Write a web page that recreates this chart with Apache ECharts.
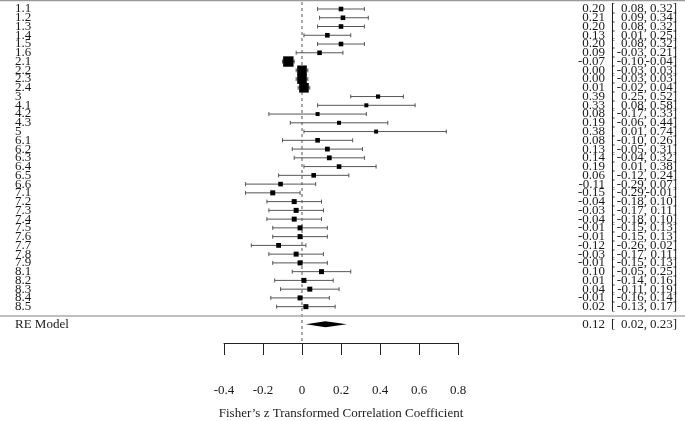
<!DOCTYPE html>
<html><head><meta charset="utf-8">
<script src="https://cdn.jsdelivr.net/npm/echarts@6/dist/echarts.min.js"></script>
<style>html,body{margin:0;padding:0;background:#fff}#c{width:685px;height:421px}</style>
</head><body><div id="c"></div>
<script>
const labels = ['1.1','1.2','1.3','1.4','1.5','1.6','2.1','2.2','2.3','2.4','3','4.1','4.2','4.3','5','6.1','6.2','6.3','6.4','6.5','6.6','7.1','7.2','7.3','7.4','7.5','7.6','7.7','7.8','7.9','8.1','8.2','8.3','8.4','8.5'];
const est   = [0.20,0.21,0.20,0.13,0.20,0.09,-0.07,0.00,0.00,0.01,0.39,0.33,0.08,0.19,0.38,0.08,0.13,0.14,0.19,0.06,-0.11,-0.15,-0.04,-0.03,-0.04,-0.01,-0.01,-0.12,-0.03,-0.01,0.10,0.01,0.04,-0.01,0.02];
const lower = [0.08,0.09,0.08,0.01,0.08,-0.03,-0.10,-0.03,-0.03,-0.02,0.25,0.08,-0.17,-0.06,0.01,-0.10,-0.05,-0.04,0.01,-0.12,-0.29,-0.29,-0.18,-0.17,-0.18,-0.15,-0.15,-0.26,-0.17,-0.15,-0.05,-0.14,-0.11,-0.16,-0.13];
const upper = [0.32,0.34,0.32,0.25,0.32,0.21,-0.04,0.03,0.03,0.04,0.52,0.58,0.33,0.44,0.74,0.26,0.31,0.32,0.38,0.24,0.07,-0.01,0.10,0.11,0.10,0.13,0.13,0.02,0.11,0.13,0.25,0.16,0.19,0.14,0.17];
// relative study weights
const weights = [2.3,2.3,2.3,2.3,2.3,2.3,5.2,4.8,4.8,4.8,2.1,2.0,2.0,2.0,2.0,2.3,2.4,2.4,2.3,2.3,2.3,2.5,2.5,2.5,2.5,2.5,2.5,2.4,2.5,2.5,2.5,2.5,2.5,2.5,2.5];
const reLabel = 'RE Model';
const reEst = 0.12, reLower = 0.02, reUpper = 0.23;
const xTicks = [-0.4,-0.2,0,0.2,0.4,0.6,0.8];

const FONT = '"Liberation Serif", "DejaVu Serif", serif';
const FS = 13;
const TXT = '#1a1a1a';
const fmt = v => v.toFixed(2);
const rePos = labels.length + 1;

const rows = labels.map((l, i) => [i, est[i], lower[i], upper[i], weights[i]]);

function txt(text, x, y, align) {
  return {type:'text', style:{text, x, y, align, verticalAlign:'middle', fontSize:FS, fontFamily:FONT, fill:TXT}};
}
function rightCols(e, lo, hi, y, out) {
  out.push(txt(fmt(e), 605, y, 'right'));
  out.push(txt('[', 611, y, 'left'));
  out.push(txt(fmt(lo) + ',', 647, y, 'right'));
  out.push(txt(fmt(hi) + ']', 677, y, 'right'));
}

const chart = echarts.init(document.getElementById('c'), null, {renderer:'canvas'});
chart.setOption({
  animation:false,
  backgroundColor:'#fff',
  grid:{left:224, right:227, top:9, bottom:78, outerBoundsMode:'none', containLabel:false},
  xAxis:{type:'value', min:-0.4, max:0.8, interval:0.2,
    axisLine:{onZero:false, lineStyle:{color:'#222', width:1}},
    axisTick:{length:12, lineStyle:{color:'#222'}},
    axisLabel:{margin:41, fontSize:FS, fontFamily:FONT, color:TXT,
      formatter:v => { const t = xTicks.find(k => Math.abs(k - v) < 1e-9); return t === undefined ? '' : String(t); }},
    splitLine:{show:false},
    name:'Fisher\u2019s z Transformed Correlation Coefficient', nameLocation:'middle', nameGap:64,
    nameTextStyle:{fontSize:FS, fontFamily:FONT, color:TXT}},
  yAxis:{type:'value', inverse:true, min:0, max:38.15, show:false},
  graphic:[
    {type:'line', shape:{x1:0, y1:0.5, x2:685, y2:0.5}, style:{stroke:'#999', lineWidth:1.5}, z:10},
    {type:'line', shape:{x1:0, y1:316, x2:685, y2:316}, style:{stroke:'#aaa', lineWidth:1.5}, z:10}
  ],
  series:[
    {type:'custom', clip:false, data:[[0]], silent:true,
      renderItem:(p, api) => {
        const a = api.coord([0, 0]), b = api.coord([0, 38.15]);
        return {type:'line', shape:{x1:a[0], y1:2, x2:b[0], y2:b[1]}, style:{stroke:'#555', lineWidth:1, lineDash:[3,3]}};
      }},
    {type:'custom', clip:false, data:rows, silent:true,
      renderItem:(p, api) => {
        const i = api.value(0), e = api.value(1), lo = api.value(2), hi = api.value(3), w = api.value(4);
        const pl = api.coord([lo, i]), ph = api.coord([hi, i]), pe = api.coord([e, i]);
        const y = pe[1], s = w * 2;
        const ch = [
          {type:'line', shape:{x1:pl[0], y1:y, x2:ph[0], y2:y}, style:{stroke:'#555', lineWidth:1}},
          {type:'line', shape:{x1:pl[0], y1:y-2, x2:pl[0], y2:y+2}, style:{stroke:'#555', lineWidth:1}},
          {type:'line', shape:{x1:ph[0], y1:y-2, x2:ph[0], y2:y+2}, style:{stroke:'#555', lineWidth:1}},
          {type:'rect', shape:{x:pe[0]-s/2, y:y-s/2, width:s, height:s}, style:{fill:'#000'}},
          txt(labels[i], 15, y, 'left')
        ];
        rightCols(e, lo, hi, y, ch);
        return {type:'group', children:ch};
      }},
    {type:'custom', clip:false, data:[[rePos, reEst, reLower, reUpper]], silent:true,
      renderItem:(p, api) => {
        const i = api.value(0), e = api.value(1), lo = api.value(2), hi = api.value(3);
        const pl = api.coord([lo, i]), ph = api.coord([hi, i]), pe = api.coord([e, i]);
        const y = pe[1];
        const ch = [
          {type:'polygon', shape:{points:[[pl[0], y],[pe[0], y-3],[ph[0], y],[pe[0], y+3]]}, style:{fill:'#000'}},
          txt(reLabel, 15, y, 'left')
        ];
        rightCols(e, lo, hi, y, ch);
        return {type:'group', children:ch};
      }}
  ]
});
</script></body></html>
